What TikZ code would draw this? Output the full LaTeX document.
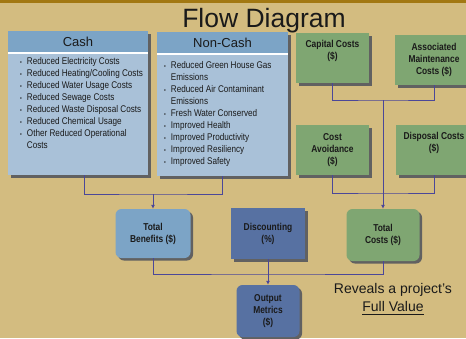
\documentclass[tikz,border=0pt]{standalone}
\usepackage{fontspec}
\setmainfont{Liberation Sans}
\newfontfamily\narrowfont[FakeStretch=0.84]{Liberation Sans}
\usetikzlibrary{arrows.meta,positioning,shadows}
\definecolor{bgtan}{HTML}{D3BC80}
\definecolor{topbar}{HTML}{A27812}
\definecolor{headblue}{HTML}{7CA4C6}
\definecolor{bodyblue}{HTML}{A9C1D8}
\definecolor{boxgreen}{HTML}{7FA672}
\definecolor{darkblue}{HTML}{5771A2}
\definecolor{linkblue}{HTML}{4B4799}
\definecolor{ink}{HTML}{1A1A1A}
\newcommand{\blt}{{\fontsize{6}{6}\selectfont\textbullet}}
\newcommand{\thickul}[1]{\setbox0\hbox{#1}\rlap{\rule[-4.2pt]{\wd0}{1.3pt}}\box0}

\begin{document}
\begin{tikzpicture}[x=1pt, y=-1pt, every node/.style={font=\narrowfont\fontsize{10}{12}\selectfont, text=ink}]
\tikzset{box/.style={draw=none, align=center, inner sep=2pt, font=\narrowfont\bfseries\fontsize{10}{12}\selectfont,
  drop shadow={shadow xshift=2.5pt, shadow yshift=-2.5pt, fill=black!62, opacity=1}}}
\tikzset{panel/.style={box, fill=bodyblue, minimum height=144pt}}
\tikzset{head/.style={fill=headblue, minimum height=22pt, inner sep=0pt, font=\fontsize{13}{15}\selectfont}}
\tikzset{list/.style={anchor=base west, inner sep=0pt, align=left, font=\narrowfont\fontsize{9.7}{12}\selectfont}}
\tikzset{link/.style={draw=linkblue, line width=1pt}}
\tikzset{arrow/.style={link, -{Latex[length=4pt, width=4pt]}}}
\fill[bgtan] (0,0) rectangle (466,338);
\fill[topbar] (0,0) rectangle (466,3);
\useasboundingbox (0,0) rectangle (466,338);
\node[anchor=base, font=\fontsize{26.5}{30}\selectfont] (title) at (264,27) {Flow Diagram};
% benefit panels
\node[panel, minimum width=140pt] (cash) at (78,103) {};
\node[head, minimum width=140pt, anchor=north] (cashhead) at (cash.north) {Cash};
\draw[white, line width=2pt] (cashhead.south west) -- (cashhead.south east);
\node[panel, minimum width=131pt] (noncash) at (222.5,104) {};
\node[head, minimum width=131pt, anchor=north] (noncashhead) at (noncash.north) {Non-Cash};
\draw[white, line width=2pt] (noncashhead.south west) -- (noncashhead.south east);
\node[list] (cashlist) at (20,64) {\begin{tabular}[t]{@{}l@{\hspace{5pt}}l@{}}
\blt & Reduced Electricity Costs\\
\blt & Reduced Heating/Cooling Costs\\
\blt & Reduced Water Usage Costs\\
\blt & Reduced Sewage Costs\\
\blt & Reduced Waste Disposal Costs\\
\blt & Reduced Chemical Usage\\
\blt & Other Reduced Operational\\
     & Costs
\end{tabular}};
\node[list] (noncashlist) at (164,68) {\begin{tabular}[t]{@{}l@{\hspace{5pt}}l@{}}
\blt & Reduced Green House Gas\\
     & Emissions\\
\blt & Reduced Air Contaminant\\
     & Emissions\\
\blt & Fresh Water Conserved\\
\blt & Improved Health\\
\blt & Improved Productivity\\
\blt & Improved Resiliency\\
\blt & Improved Safety
\end{tabular}};
% cost boxes
\node[box, fill=boxgreen, minimum width=73pt, minimum height=50pt] (capital) at (332.5,58) {Capital Costs\\(\$)\\\strut};
\node[box, fill=boxgreen, minimum width=78pt, minimum height=50pt] (maint) at (434,60) {Associated\\Maintenance\\Costs (\$)};
\node[box, fill=boxgreen, minimum width=73pt, minimum height=50pt] (avoid) at (332.5,150) {Cost\\Avoidance\\(\$)};
\node[box, fill=boxgreen, minimum width=76pt, minimum height=50pt] (disposal) at (434,150) {Disposal Costs\\(\$)\\\strut};
% totals
\node[box, fill=headblue, rounded corners=6pt, minimum width=75pt, minimum height=49pt] (totben) at (153,233.5) {Total\\Benefits (\$)};
\node[box, fill=darkblue, minimum width=74pt, minimum height=51pt] (disc) at (268,233.5) {Discounting\\(\%)};
\node[box, fill=boxgreen, rounded corners=6pt, minimum width=73pt, minimum height=52pt] (totcost) at (383,235) {Total\\Costs (\$)};
\node[box, fill=darkblue, rounded corners=6pt, minimum width=63pt, minimum height=52pt] (output) at (268,311) {Output\\Metrics\\(\$)};
\node[align=center, font=\fontsize{14}{18}\selectfont, anchor=base] (reveal) at (393,311) {Reveals a project’s\\\thickul{Full Value}};
% connectors
\coordinate (bensplit) at (153,194);
\coordinate (costtop) at (383,100);
\coordinate (costmid) at (383,193);
\coordinate (outsplit) at (268,274);
\draw[link] ([xshift=6pt]cash.south) |- (bensplit) -| (noncash.south);
\draw[arrow] (bensplit) -- (totben);
\draw[link] (capital.south) |- (costtop) -| (maint.south);
\draw[link] (avoid.south) |- (costmid) -| (disposal.south);
\draw[arrow] (costtop) -- (totcost);
\draw[link] (totben.south) |- (outsplit) -| (totcost.south);
\draw[arrow] (disc) -- (output);
\end{tikzpicture}
\end{document}
